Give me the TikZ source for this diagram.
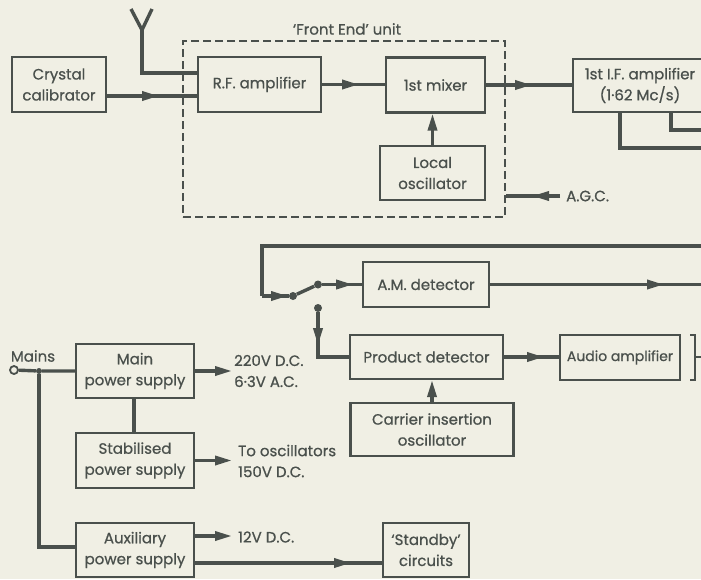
\documentclass[tikz,border=0pt]{standalone}
\usepackage{fontspec}
\setmainfont{Poppins}[FakeBold=0.7]
\usetikzlibrary{arrows.meta,decorations.markings}
\definecolor{ink}{RGB}{74,80,76}
\definecolor{paper}{RGB}{240,239,228}
\tikzset{
  txt/.style={text=ink,inner sep=0pt,font=\fontsize{15}{21}\selectfont},
  blk/.style={txt,draw=ink,line width=2.1pt,align=center},
  wire/.style={draw=ink,color=ink,line width=3.4pt},
  thin/.style={draw=ink,line width=2pt},
  tipend/.style={-{Triangle[length=17pt,width=9pt]}},
  midarr/.style={postaction={decorate},decoration={markings,mark=at position #1 with {\arrow{Triangle[length=17pt,width=9pt]}}}},
  dotf/.style={circle,fill=ink,inner sep=0pt,minimum size=8pt},
  doto/.style={circle,draw=ink,line width=1.8pt,fill=paper,inner sep=0pt,minimum size=8pt},
}
\begin{document}
\begin{tikzpicture}[x=1pt,y=-1pt]
\fill[paper] (0,0) rectangle (701,579);
\useasboundingbox (0,0) rectangle (701,579);

% Front end dashed box
\node[draw=ink,line width=1.8pt,dash pattern=on 8pt off 4pt,inner sep=0pt,minimum width=322pt,minimum height=176pt] (fe) at (344,129) {};
\node[txt] (fel) at (347,29) {‘Front End’ unit};

% blocks
\node[blk,minimum width=94pt,minimum height=55pt] (cal) at (59,84.5) {Crystal\\calibrator};
\node[blk,minimum width=123pt,minimum height=55pt] (rf) at (259.5,84.5) {R.F. amplifier};
\node[blk,minimum width=99pt,minimum height=55pt] (mix) at (435.5,85) {1st mixer};
\node[blk,minimum width=105pt,minimum height=54pt] (lo) at (432.5,173) {Local\\oscillator};
\node[blk,minimum width=134pt,minimum height=53pt] (if) at (640,85.5) {1st I.F. amplifier\\(1·62 Mc/s)};
\node[blk,minimum width=126pt,minimum height=45pt] (am) at (426,284.5) {A.M. detector};
\node[blk,minimum width=153pt,minimum height=44pt] (pd) at (426.5,357) {Product detector};
\node[blk,minimum width=120pt,minimum height=45pt,font=\fontsize{14}{21}\selectfont] (au) at (620,357.5) {Audio amplifier};
\node[blk,minimum width=163pt,minimum height=53pt] (cio) at (432,429.5) {Carrier insertion\\oscillator};
\node[blk,minimum width=118pt,minimum height=54pt] (mps) at (135,371) {Main\\power supply};
\node[blk,minimum width=118pt,minimum height=55pt] (sps) at (135,460.5) {Stabilised\\power supply};
\node[blk,minimum width=118pt,minimum height=54pt] (aps) at (135,550) {Auxiliary\\power supply};
\node[blk,minimum width=86pt,minimum height=54pt] (sb) at (426,550) {‘Standby’\\circuits};

% labels
\node[txt,anchor=west] (agc) at (566,196) {A.G.C.};
\node[txt,anchor=west,align=left] (v220) at (234,371) {220V D.C.\\6·3V A.C.};
\node[txt,anchor=west,align=left] (osc) at (238,461) {To oscillators\\150V D.C.};
\node[txt,anchor=west] (v12) at (238,537) {12V D.C.};
\node[txt] (mainsl) at (33,356) {Mains};

% antenna
\coordinate (ant) at (142,30);
\coordinate (antl) at (131,9);
\coordinate (antr) at (152,9);
\draw[wire,line join=miter] (antl) -- (ant) -- (antr);
\draw[wire] (ant) |- ([yshift=11.5pt]rf.west);

% front end connections
\draw[wire,midarr=52pt] ([yshift=-11.5pt]cal.east) -- ([yshift=-11.5pt]rf.west);
\draw[wire,midarr=37pt] (rf.east) -- (rf.east -| mix.west);
\draw[wire,tipend] (lo.north) -- (lo.north |- mix.south);
\draw[wire,midarr=46pt] (mix.east) -- (mix.east -| if.west);
\draw[wire,midarr=28pt] ([xshift=-6pt]agc.west) -- (agc.west -| fe.east);

% IF outputs
\coordinate (e1) at (701,148);
\coordinate (e2) at (701,130);
\draw[wire] ([xshift=-20pt]if.south) |- (e1);
\draw[wire] ([xshift=31pt]if.south) |- (e2);

% switch
\coordinate (r1) at (701,246);
\coordinate (lc) at (262,246);
\node[dotf] (piv) at (293,296) {};
\node[dotf] (ca) at (318,284.5) {};
\node[dotf] (cb) at (318,308) {};
\draw[wire] (r1) -- (lc) -- (lc |- piv);
\draw[wire,midarr=26pt] (lc |- piv) -- (piv);
\draw[wire] (piv) -- (ca);
\draw[wire,midarr=31pt] (ca) -- (ca -| am.west);
\draw[wire,midarr=33pt] (cb) |- (pd.west);

% detectors
\coordinate (r2) at (701,284.5);
\draw[wire,midarr=174pt] (am.east) -- (r2);
\draw[wire,midarr=40pt] (pd.east) -- (pd.east -| au.west);
\draw[wire,tipend] (cio.north) -- (cio.north |- pd.south);

% bracket beside audio amplifier (cut page edge)
\draw[thin] (690,335) -- (695,335) -- (695,380) -- (690,380);
\draw[thin] (695,357) -- (701,357);

% power
\node[doto] (mains) at (14,370) {};
\node[dotf,minimum size=6pt] (jn) at (39,371) {};
\draw[wire] (mains) -- (jn) -- (jn -| mps.west);
\draw[wire] (jn) |- ([yshift=3pt]aps.west);
\draw[wire] ([xshift=-1pt]mps.south) -- ([xshift=-1pt]sps.north);
\draw[wire,tipend,shorten >=2pt] (mps.east) -- (v220.west);
\draw[wire,tipend,shorten >=6pt] (sps.east) -- (sps.east -| osc.west);
\draw[wire,tipend,shorten >=6pt] ([yshift=14pt]aps.east) -- ([yshift=14pt]aps.east -| v12.west);
\draw[wire,midarr=156pt] ([yshift=-13pt]aps.east) -- ([yshift=-13pt]sb.west);
\end{tikzpicture}
\end{document}
